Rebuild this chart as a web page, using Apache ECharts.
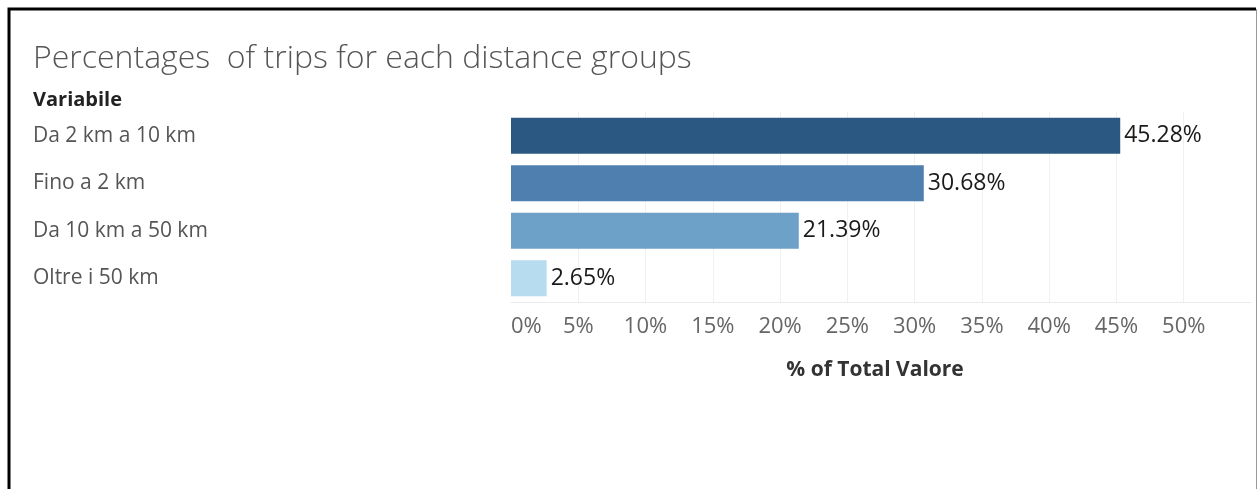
<!DOCTYPE html>
<html>
<head>
<meta charset="utf-8">
<title>Percentages of trips for each distance groups</title>
<script src="https://cdn.jsdelivr.net/npm/echarts@6/dist/echarts.min.js"></script>
<style>
  html, body { margin: 0; padding: 0; background: #ffffff; }
  #chart { width: 1259px; height: 489px; }
</style>
</head>
<body>
<div id="chart"></div>
<script>
// Distance groups, sorted by share of trips
const categories = ['Da 2 km a 10 km', 'Fino a 2 km', 'Da 10 km a 50 km', 'Oltre i 50 km'];
const shares = [45.28, 30.68, 21.39, 2.65];
const barColors = ['#2b5883', '#4e7fae', '#6ea1c8', '#b7dbef'];
const tickLabels = ['0%', '5%', '10%', '15%', '20%', '25%', '30%', '35%', '40%', '45%', '50%'];

const FONT = '"Open Sans", "Noto Sans", sans-serif';

const chart = echarts.init(document.getElementById('chart'), null, { renderer: 'canvas' });

chart.setOption({
  animation: false,
  backgroundColor: '#ffffff',
  title: [
    {
      text: 'Percentages  of trips for each distance groups',
      left: 28,
      top: 38,
      textStyle: { fontFamily: FONT, fontWeight: 300, fontSize: 32, color: '#555555' }
    },
    {
      text: 'Variabile',
      left: 28,
      top: 85,
      textStyle: { fontFamily: FONT, fontWeight: 'bold', fontSize: 20, color: '#222222' }
    }
  ],
  grid: { left: 511, right: 8, top: 112, bottom: 187, containLabel: false },
  xAxis: {
    type: 'value',
    min: 0,
    max: 55,
    interval: 5,
    name: '% of Total Valore',
    nameLocation: 'middle',
    nameGap: 58,
    nameTextStyle: { fontFamily: FONT, fontWeight: 'bold', fontSize: 21, color: '#333333', padding: [0, 12, 0, 0] },
    axisLine: { show: true, lineStyle: { color: '#ececec', width: 1 } },
    axisTick: { show: false },
    axisLabel: {
      margin: 14,
      fontFamily: FONT,
      fontSize: 22,
      color: '#666666',
      showMaxLabel: false,
      alignMinLabel: 'left',
      formatter: function (v) { return tickLabels[Math.round(v / 5)] || ''; }
    },
    splitLine: { show: true, showMinLine: false, showMaxLine: false, lineStyle: { color: '#f0f0f0', width: 1 } }
  },
  yAxis: {
    type: 'category',
    data: categories,
    inverse: true,
    axisLine: { show: false },
    axisTick: { show: false },
    splitLine: { show: false },
    axisLabel: {
      align: 'left',
      margin: 478,
      fontFamily: FONT,
      fontSize: 21,
      color: '#555555'
    }
  },
  series: [{
    type: 'bar',
    data: shares.map(function (v, i) { return { value: v, itemStyle: { color: barColors[i] } }; }),
    barCategoryGap: '24%',
    label: {
      show: true,
      position: 'right',
      distance: 4,
      fontFamily: FONT,
      fontSize: 23,
      color: '#1a1a1a',
      formatter: function (p) { return p.value.toFixed(2) + '%'; }
    }
  }],
  graphic: [
    {
      type: 'polyline',
      shape: { points: [[9, 489], [9, 9], [1256, 9]] },
      style: { stroke: '#000000', lineWidth: 3, fill: null }
    },
    {
      type: 'line',
      shape: { x1: 1256.5, y1: 9, x2: 1256.5, y2: 489 },
      style: { stroke: '#9a9a9a', lineWidth: 1 }
    }
  ]
});
</script>
</body>
</html>
